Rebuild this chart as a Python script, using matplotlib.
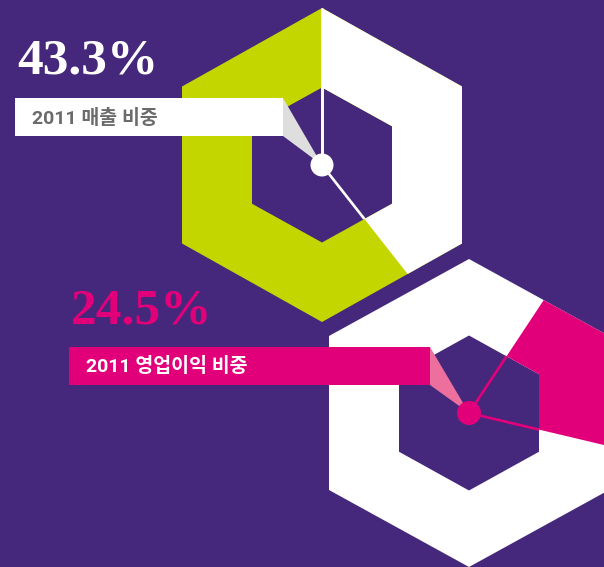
import numpy as np
import matplotlib
matplotlib.use("Agg")
import matplotlib.pyplot as plt
from matplotlib.patches import Polygon, PathPatch, Circle, Rectangle
from matplotlib.path import Path

# ---- data ----
share_labels = ["43.3%", "24.5%"]
titles = ["2011 매출 비중", "2011 영업이익 비중"]
# highlighted sector extent (percent of full turn)
sector_share = [39.4, 19.4]

# ---- style ----
BG = "#45287c"
GREEN = "#c4d600"
WHITE = "#ffffff"
MAG = "#e2007a"
PINK = "#ec6f9d"
GREY_PTR = "#dedede"
GREY_TXT = "#6b6b6b"

W, H = 604, 567
fig = plt.figure(figsize=(W / 100, H / 100), dpi=100)
fig.patch.set_facecolor(BG)
ax = fig.add_axes([0, 0, 1, 1])
ax.set_xlim(0, W)
ax.set_ylim(H, 0)
ax.axis("off")
ax.set_facecolor(BG)


def hexagon(cx, cy, R, hx):
    # pointy-top hexagon, clockwise from top (y grows downward)
    return np.array([
        (cx, cy - R), (cx + hx, cy - R / 2), (cx + hx, cy + R / 2),
        (cx, cy + R), (cx - hx, cy + R / 2), (cx - hx, cy - R / 2),
    ])


def ring_path(cx, cy, R, hx, r, rx):
    outer = hexagon(cx, cy, R, hx)
    inner = hexagon(cx, cy, r, rx)[::-1]
    verts = np.vstack([outer, outer[:1], inner, inner[:1]])
    codes = ([Path.MOVETO] + [Path.LINETO] * 5 + [Path.CLOSEPOLY]) * 2
    return Path(verts, codes)


def fan(cx, cy, a0, a1, rad=400, n=80):
    th = np.radians(np.linspace(a0, a1, n))
    pts = [(cx, cy)] + [(cx + rad * np.sin(t), cy - rad * np.cos(t)) for t in th]
    return np.array(pts)


def ray_end(cx, cy, a, rad=400):
    t = np.radians(a)
    return cx + rad * np.sin(t), cy - rad * np.cos(t)


charts = [
    dict(c=(322, 165), R=157, hx=140, r=77.5, rx=70, base=GREEN, hi=WHITE,
         start=0.0, line=WHITE),
    dict(c=(469, 413), R=154, hx=140, r=77.5, rx=70, base=WHITE, hi=MAG,
         start=33.5, line=MAG),
]

for i, ch in enumerate(charts):
    cx, cy = ch["c"]
    rp = ring_path(cx, cy, ch["R"], ch["hx"], ch["r"], ch["rx"])
    ring = PathPatch(rp, facecolor=ch["base"], edgecolor="none", zorder=2)
    ax.add_patch(ring)
    a0 = ch["start"]
    a1 = a0 + sector_share[i] / 100 * 360
    wedge = Polygon(fan(cx, cy, a0, a1), closed=True, facecolor=ch["hi"],
                    edgecolor="none", zorder=3)
    ax.add_patch(wedge)
    wedge.set_clip_path(ring)
    # inner clip for the radial lines
    inner = Polygon(hexagon(cx, cy, ch["r"], ch["rx"]), closed=True,
                    facecolor="none", edgecolor="none", zorder=1)
    ax.add_patch(inner)
    for a in (a0, a1):
        ex, ey = ray_end(cx, cy, a)
        ln, = ax.plot([cx, ex], [cy, ey], color=ch["line"], lw=1.9,
                      solid_capstyle="butt", zorder=6)
        ln.set_clip_path(inner)

# thin white line to the top vertex of the first chart
cx, cy = charts[0]["c"]
ax.plot([cx, cx], [cy, cy - charts[0]["R"]], color=WHITE, lw=1.9, zorder=6,
        solid_capstyle="butt")

# ---- label boxes with pointers ----
# top
bx0, bx1, by0, by1 = 15, 283, 98, 136
ax.add_patch(Polygon([(bx1, by0), (bx1, by1), charts[0]["c"]], closed=True,
                     facecolor=GREY_PTR, edgecolor="none", zorder=7))
ax.add_patch(Rectangle((bx0, by0), bx1 - bx0, by1 - by0, facecolor=WHITE,
                       edgecolor="none", zorder=8))
ax.add_patch(Circle(charts[0]["c"], 11.5, facecolor=WHITE, edgecolor="none", zorder=9))
ax.text(32, (by0 + by1) / 2 + 1, titles[0], color=GREY_TXT, fontsize=14,
        fontweight="bold", family=["Roboto", "Noto Sans CJK KR"],
        ha="left", va="center", zorder=10)
ax.text(17, 73, share_labels[0], color=WHITE, fontsize=37, fontweight="bold",
        family=["Liberation Serif", "DejaVu Serif"], ha="left",
        va="baseline", zorder=10)

# bottom
bx0, bx1, by0, by1 = 69, 430, 347, 385
ax.add_patch(Polygon([(bx1, by0), (bx1, by1), charts[1]["c"]], closed=True,
                     facecolor=PINK, edgecolor="none", zorder=7))
ax.add_patch(Rectangle((bx0, by0), bx1 - bx0, by1 - by0, facecolor=MAG,
                       edgecolor="none", zorder=8))
ax.add_patch(Circle(charts[1]["c"], 12, facecolor=MAG, edgecolor="none", zorder=9))
ax.text(86, (by0 + by1) / 2 + 1, titles[1], color=WHITE, fontsize=14,
        fontweight="bold", family=["Roboto", "Noto Sans CJK KR"],
        ha="left", va="center", zorder=10)
ax.text(71, 323, share_labels[1], color=MAG, fontsize=37, fontweight="bold",
        family=["Liberation Serif", "DejaVu Serif"], ha="left",
        va="baseline", zorder=10)

fig.savefig("out.png", dpi=100, facecolor=BG)
